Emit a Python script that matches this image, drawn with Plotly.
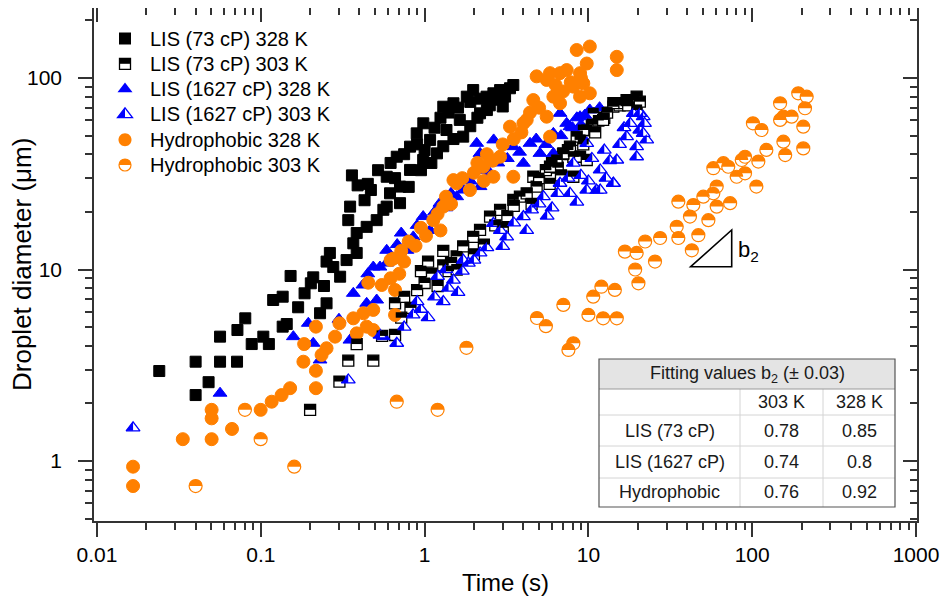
import math
import plotly.graph_objects as go

# ---------------- data (time s, droplet diameter um) ----------------
lis73_328_t = [0.024, 0.040, 0.040, 0.048, 0.0564, 0.0564, 0.0716, 0.072, 0.0804, 0.088, 0.1036, 0.112,
               0.119, 0.136, 0.136, 0.144, 0.152, 0.169, 0.185, 0.202, 0.209, 0.230, 0.252, 0.243, 0.264,
               0.277, 0.252, 0.334, 0.367, 0.342, 0.385, 0.443, 0.51, 0.587, 0.351, 0.385, 0.305, 0.36,
               0.39, 0.47, 0.43, 0.56, 0.708, 0.676, 0.815, 0.982, 0.895, 1.08, 1.30, 1.36, 1.50, 1.64,
               1.81, 1.98, 2.18, 2.39, 2.63, 2.89, 3.32, 3.48, 1.72, 1.19, 0.98, 0.815, 0.708, 0.615,
               0.587, 0.45, 0.52, 0.62, 0.75, 0.9, 1.0, 1.15, 1.25, 1.4, 1.6, 1.9, 2.2, 2.5, 2.8, 3.1,
               0.66, 0.8, 0.95, 1.1, 1.3, 1.5, 1.9, 2.1, 2.4, 3.0]
lis73_328_d = [2.95, 3.3, 2.21, 2.58, 3.3, 4.46, 3.3, 4.83, 5.56, 4.08, 4.46, 4.08,
               6.93, 7.21, 5.03, 5.19, 9.25, 6.35, 7.51, 8.47, 9.1, 5.91, 6.66, 8.2, 12.2,
               10.3, 11.0, 11.2, 13.7, 18.1, 15.5, 16.7, 18.1, 21.3, 21.3, 12.2, 9.17, 31,
               27.5, 26, 23, 20.5, 22.2, 38.8, 43.8, 58, 51.4, 47.5, 70.8, 53.5, 73.8, 60.4,
               79.9, 86.5, 65.4, 79.9, 83.2, 86.5, 88.4, 91.9, 49.4, 40.4, 37.3, 33.1, 27.1, 25.0,
               30.5, 28, 33, 36, 40, 45, 42, 55, 62, 66, 70, 75, 78, 72, 77, 80,
               30, 27, 33, 36, 44, 48, 56, 62, 68, 71]

lis73_303_t = [0.2, 0.302, 0.342, 0.486, 0.385, 0.66, 0.66, 0.75, 0.82, 0.9, 1.0, 1.1, 1.2, 1.3, 1.4,
               0.72, 0.55, 1.57, 2.18, 3.48, 4.61, 8.89, 9.77, 14.2, 18.8, 19.7, 8.09, 4.83, 3.82,
               2.89, 2.51, 1.98, 1.72, 1.57, 1.3, 1.45, 2.3, 2.7, 3.2, 3.5, 4.2, 5.0, 5.5, 6.0, 6.5,
               7.0, 7.5, 10.5, 11.5, 12.5, 13, 15.5, 16.5, 17.5, 11, 9.3, 6.8, 5.8, 4.5, 3.0, 2.0,
               0.95, 1.05, 14.2, 17.1, 19.7, 20.6, 10.7, 12.3, 9.31, 8.48, 7.72, 7.03, 6.40, 5.83,
               8.89, 9.77, 8.09]
lis73_303_d = [1.85, 2.6, 3.34, 3.34, 4.08, 6.66, 4.55, 7.2, 6.3, 7.8, 8.5, 9.5, 8.2, 10.5, 9.8,
               5.6, 4.5, 11.7, 16.1, 23.1, 30.5, 47.5, 53.5, 70.8, 76.7, 68.1, 38.8, 27.1, 24.0,
               20.5, 18.9, 14.8, 13.2, 10, 12.5, 10.8, 13.5, 17, 19, 21.5, 25, 30, 33, 36, 34,
               40, 42, 57, 60, 62, 66, 72, 74, 72, 52, 45, 31, 28, 22, 16.5, 12,
               9.8, 11, 74, 76.7, 79.9, 75.2, 65.4, 60.4, 53.5, 49.4, 43.8, 40.4, 37.3, 34.4,
               38.8, 37.3, 30.5]

lis1627_328_t = [0.0564, 0.158, 0.209, 0.230, 0.195, 0.367, 0.443, 0.51, 0.56, 0.486, 0.534, 0.587,
                 0.62, 0.35, 0.587, 0.78, 0.853, 0.98, 1.08, 1.24, 1.57, 1.72, 2.18, 2.51, 2.18, 2.64,
                 2.08, 3.48, 4.01, 4.40, 5.06, 6.11, 6.11, 7.37, 10.2, 0.3, 0.42, 0.45, 0.68, 0.72,
                 0.9, 1.15, 1.35, 1.45, 1.9, 2.3, 2.8, 3.2, 3.8, 4.8, 5.5, 6.8, 8.0, 8.5, 9.0, 9.5,
                 6.71, 8.89, 7.72, 11.7]
lis1627_328_d = [2.26, 4.46, 4.12, 3.37, 5.24, 7.51, 6.66, 6.93, 4.46, 10.3, 10.3, 12.6,
                 11.2, 4.28, 10.8, 12.6, 14.8, 18.9, 16.0, 22.2, 24.0, 26.0, 27.1, 31.8, 40.4, 47.5,
                 45.6, 43.8, 35.9, 45.6, 40.4, 40.4, 51.4, 58, 68.1, 5.5, 8.3, 9.5, 13.5, 15.5,
                 17, 20, 21, 25, 29, 33, 36, 38, 41, 48, 45, 50, 55, 62, 57, 64,
                 65.4, 62.8, 55.7, 70]

lis1627_303_t = [0.0166, 0.342, 0.534, 0.676, 0.75, 0.85, 0.95, 1.05, 1.15, 1.3, 1.4, 1.5, 1.2, 1.6,
                 1.7, 1.85, 2.0, 2.18, 3.17, 4.01, 5.31, 6.71, 8.09, 9.77, 11.8, 14.2, 11.2, 17.1,
                 20.6, 21.6, 22.7, 19.7, 18.8, 2.63, 1.72, 20.6, 21.6, 19.7, 14.9, 14.2, 11.8, 9.77,
                 7.72, 2.4, 2.9, 3.5, 4.5, 5.0, 6.0, 6.5, 7.5, 9.0, 10.5, 12.5, 13.5, 15.5, 16.5,
                 18, 22, 8.5, 10, 12.8, 4.2, 3.0, 5.6, 1.35, 0.9]
lis1627_303_d = [1.49, 2.65, 4.55, 4.12, 5.0, 5.8, 6.2, 5.6, 7.2, 6.8, 8.0, 8.8, 9.2, 7.6,
                 9.8, 10.8, 11.2, 12.2, 14.8, 18.9, 24, 28.2, 35.9, 45.6, 33.1, 28.2, 26, 49.4,
                 53.5, 62.8, 47.5, 38.8, 65.4, 17.4, 11.2, 65.4, 51.4, 43.8, 37.3, 28.2, 26, 26,
                 25, 13, 16, 17.5, 20.5, 22, 21, 25, 30, 31, 38, 42, 37, 45, 55,
                 58, 58, 22.5, 29, 30, 16, 13.2, 19, 10, 6.8]

hyd_328_t = [0.0166, 0.0166, 0.0334, 0.0501, 0.0501, 0.0501, 0.0667, 0.0998, 0.1165, 0.134, 0.151,
             0.182, 0.184, 0.217, 0.217, 0.235, 0.252, 0.217, 0.284, 0.302, 0.367, 0.423, 0.486,
             0.385, 0.443, 0.486, 0.66, 0.453, 0.547, 0.644, 0.62, 0.66, 0.62, 1.13, 1.30, 1.57,
             1.50, 1.89, 2.28, 2.63, 3.48, 2.89, 3.32, 4.01, 4.61, 5.56, 5.83, 6.11, 5.83, 6.71,
             7.37, 8.48, 10.2, 9.77, 8.89, 9.31, 10.2, 8.89, 6.71, 8.09, 14.9, 14.9, 4.83, 5.56,
             4.20, 0.72, 0.8, 0.88, 0.95, 1.02, 1.2, 1.35, 1.45, 1.7, 2.0, 2.1, 2.4, 2.6, 3.0,
             3.5, 3.9, 4.4, 5.0, 7.0, 7.8, 9.0, 6.3, 0.7, 0.75, 1.25, 2.3]
hyd_328_d = [0.934, 0.74, 1.30, 1.85, 1.67, 1.30, 1.47, 1.85, 2.04, 2.21, 2.40,
             3.30, 4.08, 2.40, 2.96, 3.58, 3.88, 5.03, 4.46, 5.24, 5.56, 5.91, 6.15,
             4.64, 5.03, 4.83, 5.79, 8.53, 8.3, 11.4, 9.0, 7.82, 11.2, 18.1, 21.3, 28.2,
             29.3, 26.0, 34.4, 30.5, 30.5, 38.8, 55.7, 58, 76.7, 62.8, 49.4, 79.9, 106, 106,
             110, 140, 146, 119, 106, 93.8, 83.2, 79.9, 73.8, 90.1, 129, 110, 102, 97.7,
             60.4, 12.5, 14, 13.3, 16.5, 15, 19.5, 24, 22, 30, 32, 36, 40, 37, 45,
             48, 52, 66, 70, 85, 95, 100, 92, 9.5, 11, 16, 29]

hyd_303_t = [0.040, 0.080, 0.0998, 0.160, 0.676, 1.2, 1.8, 4.85, 5.5, 7.03, 8.09, 7.55, 10.0, 12.3,
             14.9, 10.7, 12.0, 14.5, 16.7, 19.7, 22.2, 20.2, 19.3, 25.5, 27.4, 34.6, 35.4, 35.4,
             42.8, 46.9, 43.7, 41.7, 54.0, 50.3, 60.7, 57.9, 73.3, 60.7, 57.9, 66.7, 71.4, 80.4,
             86.3, 90.4, 106, 90.4, 109, 122, 155, 159, 205, 101, 114, 148, 155, 148, 174, 191,
             215, 210, 205]
hyd_303_d = [0.74, 1.85, 1.30, 0.934, 2.04, 1.85, 3.9, 5.58, 5.06, 6.53, 4.12, 3.8, 5.79, 5.56,
             5.56, 7.21, 8.13, 7.82, 12.4, 12.2, 14.0, 8.47, 10.0, 11.0, 14.6, 16.7, 14.6, 22.6,
             12.6, 15.1, 21.7, 18.9, 18.1, 24.0, 21.3, 25.0, 22.2, 27.1, 33.8, 35.9, 34.4, 30.5,
             37.3, 31.8, 27.1, 38.8, 36.6, 42.1, 46.5, 39.6, 42.9, 58, 53.5, 73.8, 62.8, 60.4, 62.8, 83.2,
             79.9, 69.5, 55.7]

series_names = ["LIS (73 cP) 328 K", "LIS (73 cP) 303 K", "LIS (1627 cP) 328 K",
                "LIS (1627 cP) 303 K", "Hydrophobic 328 K", "Hydrophobic 303 K"]

table_title = "Fitting values b<sub>2</sub> (± 0.03)"
table_cols = ["303 K", "328 K"]
table_rows = ["LIS (73 cP)", "LIS (1627 cP)", "Hydrophobic"]
table_303 = ["0.78", "0.74", "0.76"]
table_328 = ["0.85", "0.8", "0.92"]

x_tickvals = [0.01, 0.1, 1, 10, 100, 1000]
x_ticktext = ["0.01", "0.1", "1", "10", "100", "1000"]
y_tickvals = [1, 10, 100]
y_ticktext = ["1", "10", "100"]

# ---------------- styling / geometry ----------------
FONT = "Liberation Sans, Arial, sans-serif"
BLACK, BLUE, ORANGE = "#000000", "#0000ff", "#ff8000"
AX = "#333333"
OFF = 8                      # default page body margin
W, H = 948 - OFF, 600 - OFF  # figure size so that the page is filled exactly
# plot frame in page pixels: x 94..917, y 8..521
ML, MT = 94 - OFF, 8 - OFF
MR = W - (917 - OFF)
MB = H - (521 - OFF)
PW, PH = W - ML - MR, H - MT - MB

def fx(p):  # page px -> paper fraction
    return (p - OFF - ML) / PW

def fy(p):
    return (H - MB - (p - OFF)) / PH

SQ, TRI, CIR = 11, 12, 13
K = 0.5523

def sq_top(h):
    return f"M {-h},0 L {h},0 L {h},{h} L {-h},{h} Z"

def sq_full(h):
    return f"M {-h},{-h} L {h},{-h} L {h},{h} L {-h},{h} Z"

def tri_geom(size):
    r = size / 2
    return round(r * 2 / math.sqrt(3), 2), r / 2, r

def tri_full(size):
    rt, r2, r = tri_geom(size)
    return f"M {-rt},{-r2} L {rt},{-r2} L 0,{r} Z"

def tri_left(size):
    rt, r2, r = tri_geom(size)
    return f"M {-rt},{-r2} L 0,{-r2} L 0,{r} Z"

def circ_full(R):
    k = K * R
    return (f"M {-R},0 C {-R},{k} {-k},{R} 0,{R} C {k},{R} {R},{k} {R},0 "
            f"C {R},{-k} {k},{-R} 0,{-R} C {-k},{-R} {-R},{-k} {-R},0 Z")

def circ_top(R):
    k = K * R
    return f"M {-R},0 C {-R},{k} {-k},{R} 0,{R} C {k},{R} {R},{k} {R},0 Z"

fig = go.Figure()

def add(ts, ds, name, symbol, size, color, fill, lw):
    fig.add_trace(go.Scatter(
        x=ts, y=ds, mode="markers", name=name, showlegend=False,
        marker=dict(symbol=symbol, size=size, color=fill,
                    line=dict(color=color, width=lw)),
        cliponaxis=True))

add(lis73_328_t, lis73_328_d, series_names[0], "square", SQ, BLACK, BLACK, 1)
add(lis73_303_t, lis73_303_d, series_names[1], "square", SQ, BLACK, "white", 1.3)
add(lis1627_328_t, lis1627_328_d, series_names[2], "triangle-up", TRI, BLUE, BLUE, 1)
add(lis1627_303_t, lis1627_303_d, series_names[3], "triangle-up", TRI, BLUE, "white", 1.3)
add(hyd_328_t, hyd_328_d, series_names[4], "circle", CIR, ORANGE, ORANGE, 1)
add(hyd_303_t, hyd_303_d, series_names[5], "circle", CIR, ORANGE, "white", 1.2)

shapes = []

def half_shapes(ts, ds, path, color):
    for t, d in zip(ts, ds):
        shapes.append(dict(type="path", xref="x", yref="y", xsizemode="pixel", ysizemode="pixel",
                           xanchor=t, yanchor=d, path=path, fillcolor=color,
                           line=dict(width=0), layer="above"))

half_shapes(lis73_303_t, lis73_303_d, sq_top(SQ / 2), BLACK)
half_shapes(lis1627_303_t, lis1627_303_d, tri_left(TRI), BLUE)
half_shapes(hyd_303_t, hyd_303_d, circ_top(CIR / 2), ORANGE)

# ---------------- manual legend ----------------
annotations = []
leg_x = 125
leg_y0, leg_dy = 38.5, 25.3
leg_specs = [
    [(sq_full(6), BLACK, BLACK, 0)],
    [(sq_full(5.5), "white", BLACK, 1.3), (sq_top(5.5), BLACK, None, 0)],
    [(tri_full(13), BLUE, BLUE, 0)],
    [(tri_full(13), "white", BLUE, 1.3), (tri_left(13), BLUE, None, 0)],
    [(circ_full(6.5), ORANGE, ORANGE, 0)],
    [(circ_full(6), "white", ORANGE, 1.2), (circ_top(6), ORANGE, None, 0)],
]
for i, (name, parts) in enumerate(zip(series_names, leg_specs)):
    yy = fy(leg_y0 + i * leg_dy)
    for path, fill, lc, lw in parts:
        shapes.append(dict(type="path", xref="paper", yref="paper", xsizemode="pixel",
                           ysizemode="pixel", xanchor=fx(leg_x), yanchor=yy, path=path,
                           fillcolor=fill, line=dict(color=lc or fill, width=lw), layer="above"))
    annotations.append(dict(x=fx(148), y=yy, xref="paper", yref="paper", text=name,
                            showarrow=False, xanchor="left", yanchor="middle",
                            font=dict(family=FONT, size=20, color="black")))

# ---------------- inset table ----------------
tx0, tx1, ty0, ty1 = 599, 895, 359, 507
hy = 389
cx = [740, 823]
ry = [415, 446, 478]
shapes.append(dict(type="rect", xref="paper", yref="paper", x0=fx(tx0), x1=fx(tx1), y0=fy(ty1), y1=fy(ty0),
                   fillcolor="white", line=dict(width=0), layer="above"))
shapes.append(dict(type="rect", xref="paper", yref="paper", x0=fx(tx0), x1=fx(tx1), y0=fy(hy), y1=fy(ty0),
                   fillcolor="#e4e4e4", line=dict(width=0), layer="above"))
for c in cx:
    shapes.append(dict(type="line", xref="paper", yref="paper", x0=fx(c), x1=fx(c), y0=fy(hy), y1=fy(ty1),
                       line=dict(color="#d4d4d4", width=1), layer="above"))
for r in ry:
    shapes.append(dict(type="line", xref="paper", yref="paper", x0=fx(tx0), x1=fx(tx1), y0=fy(r), y1=fy(r),
                       line=dict(color="#d4d4d4", width=1), layer="above"))
shapes.append(dict(type="line", xref="paper", yref="paper", x0=fx(tx0), x1=fx(tx1), y0=fy(hy), y1=fy(hy),
                   line=dict(color="#9a9a9a", width=1), layer="above"))
shapes.append(dict(type="rect", xref="paper", yref="paper", x0=fx(tx0), x1=fx(tx1), y0=fy(ty1), y1=fy(ty0),
                   fillcolor="rgba(0,0,0,0)", line=dict(color="#555555", width=1.2), layer="above"))

TF = dict(family=FONT, size=18, color="#1a1a1a")
def cell(xc, yc, text):
    annotations.append(dict(x=fx(xc), y=fy(yc), xref="paper", yref="paper", text=text, showarrow=False,
                            xanchor="center", yanchor="middle", font=TF))

cell((tx0 + tx1) / 2, 374, table_title)
col_c = [(cx[0] + cx[1]) / 2, (cx[1] + tx1) / 2]
row_c = [430.5, 462, 492]
cell(col_c[0], 402, table_cols[0])
cell(col_c[1], 402, table_cols[1])
for i in range(3):
    cell((tx0 + cx[0]) / 2, row_c[i], table_rows[i])
    cell(col_c[0], row_c[i], table_303[i])
    cell(col_c[1], row_c[i], table_328[i])

# ---------------- slope triangle ----------------
shapes.append(dict(type="path", xref="paper", yref="paper",
                   path=f"M {fx(690.7)},{fy(266.7)} L {fx(731.7)},{fy(230)} L {fx(731.7)},{fy(266.7)} Z",
                   line=dict(color="black", width=1.6), fillcolor="rgba(0,0,0,0)", layer="above"))
annotations.append(dict(x=fx(736), y=fy(251), xref="paper", yref="paper", text="b<sub>2</sub>",
                        showarrow=False, xanchor="left", yanchor="middle",
                        font=dict(family=FONT, size=22, color="black")))

# ---------------- axis titles ----------------
annotations.append(dict(x=fx(505), y=fy(583), xref="paper", yref="paper", text="Time (s)",
                        showarrow=False, xanchor="center", yanchor="middle",
                        font=dict(family=FONT, size=24, color="black")))
annotations.append(dict(x=fx(22), y=fy(265), xref="paper", yref="paper", text="Droplet diameter (μm)",
                        showarrow=False, xanchor="center", yanchor="middle", textangle=-90,
                        font=dict(family=FONT, size=26, color="black")))

# ---------------- axes ----------------
def minors(lo_exp, hi_exp, lo, hi):
    out = []
    for e in range(lo_exp, hi_exp + 1):
        for k in range(2, 10):
            v = k * 10 ** e
            if lo <= v <= hi:
                out.append(v)
    return out

xr = [-2.0183, 3.006]
yr = [-0.3133, 2.3655]
xmin = minors(-2, 2, 0.0096, 1010)
ymin = minors(-1, 2, 0.48, 235)
common = dict(type="log", showgrid=False, zeroline=False, showline=True, linecolor=AX, linewidth=1.5,
              tickcolor=AX, tickwidth=1.5, ticklen=14)

fig.update_layout(
    width=W, height=H, margin=dict(l=ML, r=MR, t=MT, b=MB, autoexpand=False),
    paper_bgcolor="white", plot_bgcolor="white", showlegend=False,
    font=dict(family=FONT, color="black"),
    xaxis=dict(**common, range=xr, ticks="outside", tickvals=x_tickvals, ticktext=x_ticktext,
               tickfont=dict(family=FONT, size=21, color="black"),
               minor=dict(tickvals=xmin, ticks="outside", ticklen=7, tickcolor=AX, tickwidth=1.5)),
    yaxis=dict(**common, range=yr, ticks="outside", tickvals=y_tickvals, ticktext=y_ticktext,
               tickfont=dict(family=FONT, size=21, color="black"), ticklabelstandoff=12,
               minor=dict(tickvals=ymin, ticks="outside", ticklen=7, tickcolor=AX, tickwidth=1.5)),
    xaxis2=dict(**common, range=xr, overlaying="x", side="top", anchor="y", ticks="inside",
                tickvals=x_tickvals, showticklabels=False,
                minor=dict(tickvals=xmin, ticks="inside", ticklen=7, tickcolor=AX, tickwidth=1.5)),
    yaxis2=dict(**common, range=yr, overlaying="y", side="right", anchor="x", ticks="inside",
                tickvals=y_tickvals, showticklabels=False,
                minor=dict(tickvals=ymin, ticks="inside", ticklen=7, tickcolor=AX, tickwidth=1.5)),
    shapes=shapes, annotations=annotations,
)
# invisible trace so the mirror (top/right) axes are drawn
fig.add_trace(go.Scatter(x=[None], y=[None], xaxis="x2", yaxis="y2", showlegend=False, hoverinfo="skip"))

fig.write_html("out.html")
